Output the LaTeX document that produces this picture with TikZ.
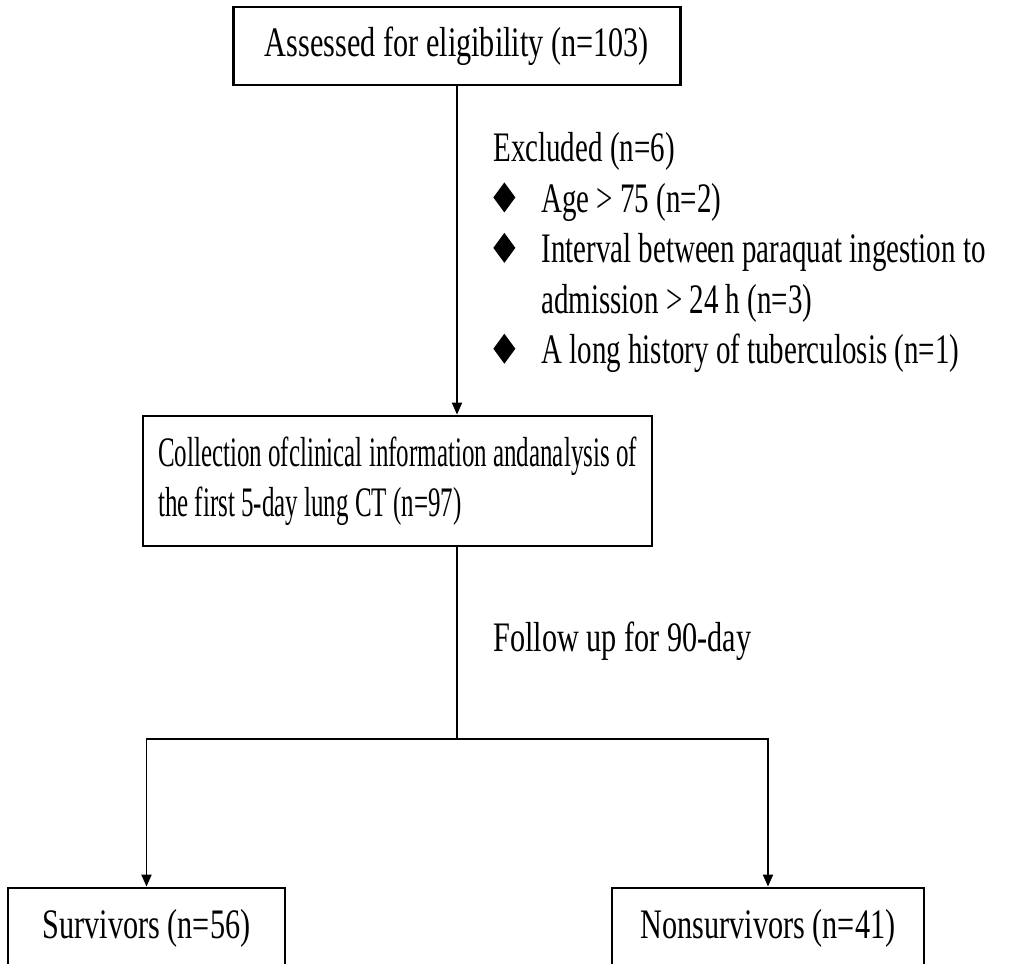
\documentclass[tikz,border=0pt]{standalone}
\usepackage{fontspec}
\setmainfont[FakeStretch=0.72]{Liberation Serif}
\newfontfamily\collfont[FakeStretch=0.595]{Liberation Serif}
\newfontfamily\exclfont[FakeStretch=0.69]{Liberation Serif}
\usetikzlibrary{arrows.meta}

\newcommand{\dmd}{\tikz[baseline=0pt]\fill (0,.3)--(.22,.6)--(.44,.3)--(.22,0)--cycle;}

\begin{document}
\begin{tikzpicture}[
  box/.style={draw, line width=1.6pt, inner sep=0pt, minimum height=1.56cm},
  txt/.style={font=\fontsize{23.9}{28.7}\selectfont},
  colltxt/.style={font=\collfont\fontsize{23.9}{28.7}\selectfont},
  excltxt/.style={font=\exclfont\fontsize{23.9}{28.7}\selectfont},
  link/.style={line width=1.1pt},
  arr/.style={link, -{Triangle[length=2.4mm,width=2mm]}}]
\useasboundingbox (0,0) rectangle (20.52,19.28);

% boxes
\node[box, txt, minimum width=8.94cm] (assess) at (9.14,18.36) {Assessed for eligibility (n=103)};
\node[box, colltxt, align=left, minimum width=10.18cm, minimum height=2.6cm] (coll) at (7.95,9.66)
  {Collection ofclinical information andanalysis of\\the first 5-day lung CT (n=97)};
\node[box, txt, minimum width=5.54cm, minimum height=1.6cm] (surv) at (2.93,.72) {Survivors (n=56)};
\node[box, txt, minimum width=6.24cm, minimum height=1.6cm] (nonsurv) at (15.36,.72) {Nonsurvivors (n=41)};

% side texts
\node[excltxt, anchor=base west, inner sep=0pt] (excl) at (9.86,16.04) {%
  \begin{tabular}[t]{@{}l@{\hspace{.52cm}}l@{}}
  \multicolumn{2}{@{}l@{}}{Excluded (n=6)}\\
  \dmd & Age > 75 (n=2)\\
  \dmd & Interval between paraquat ingestion to\\
       & admission > 24 h (n=3)\\
  \dmd & A long history of tuberculosis (n=1)
  \end{tabular}};
\node[txt, anchor=base west, inner sep=0pt] (follow) at (9.86,6.24) {Follow up for 90-day};

% connectors
\coordinate (split) at (9.14,4.5);
\draw[arr] (assess.south) -- (assess.south |- coll.north);
\draw[link] (assess.south |- coll.south) -- (split);
\draw[arr] (split) -| (surv.north);
\draw[arr] (split) -| (nonsurv.north);

\end{tikzpicture}
\end{document}
